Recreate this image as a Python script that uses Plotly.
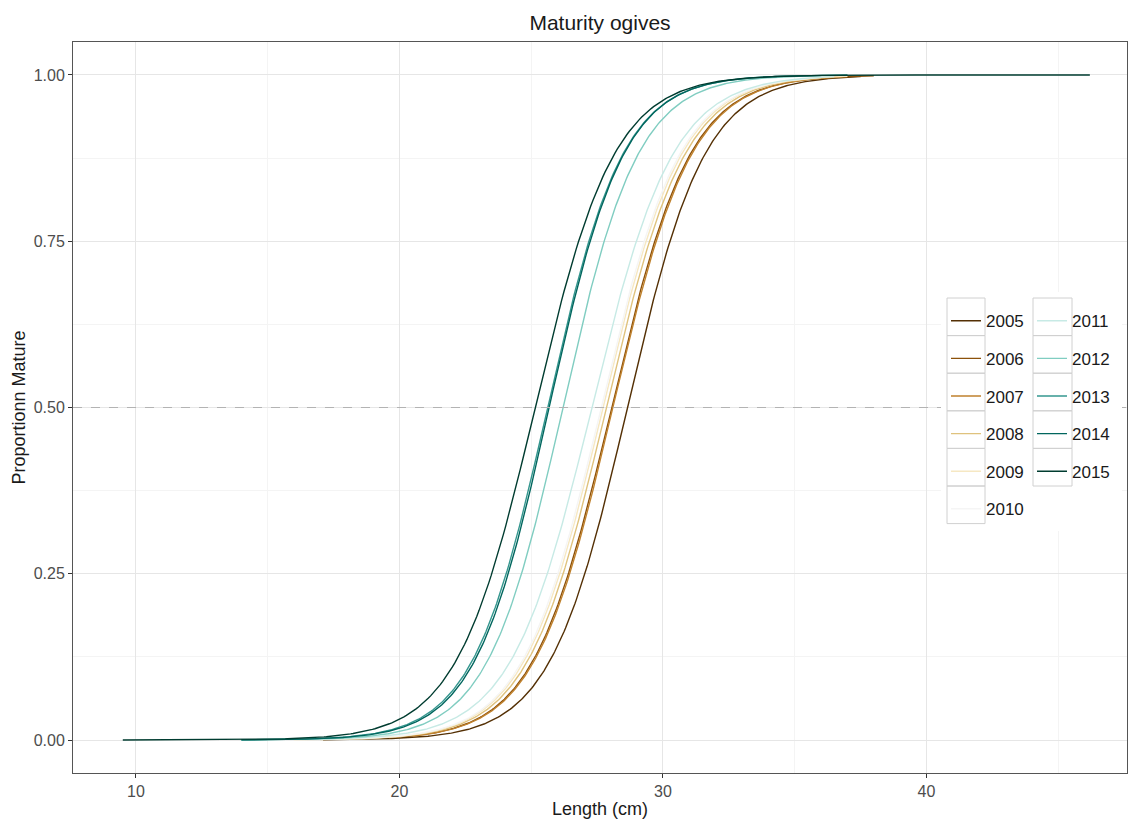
import numpy as np
import plotly.graph_objects as go

# ---- data ----
years = [2005, 2006, 2007, 2008, 2009, 2010, 2011, 2012, 2013, 2014, 2015]
l50 = [28.65, 28.05, 28.1, 27.85, 27.72, 27.65, 27.3, 26.2, 25.62, 25.68, 25.15]
slope = [0.68, 0.67, 0.67, 0.67, 0.67, 0.67, 0.65, 0.70, 0.70, 0.707, 0.666]
len_min = [17.1, 19.6, 20.5, 17.0, 16.0, 15.0, 14.0, 14.0, 14.0, 14.0, 9.5]
len_max = [37.5, 38.0, 37.0, 36.0, 37.0, 36.0, 36.5, 36.0, 37.0, 37.0, 46.2]
colors = ['#543005', '#8c510a', '#bf812d', '#dfc27d', '#f6e8c3', '#f5f5f5',
          '#c7eae5', '#80cdc1', '#35978f', '#01665e', '#003c30']
x_ticks = [10, 20, 30, 40]
y_ticks = [0, 0.25, 0.5, 0.75, 1.0]
y_ticklabels = ['0.00', '0.25', '0.50', '0.75', '1.00']

W, H = 1128, 829
ML, MR, MT, MB = 73, 1, 42, 56
PW, PH = W - ML - MR, H - MT - MB
FONT = 'Liberation Sans, Arial, sans-serif'


def px_x(p):
    return (p - ML) / PW


def px_y(p):
    return 1 - (p - MT) / PH


fig = go.Figure()
for i, yr in enumerate(years):
    x = np.linspace(len_min[i], len_max[i], 400)
    y = 1 / (1 + np.exp(-slope[i] * (x - l50[i])))
    fig.add_trace(go.Scatter(
        x=x, y=y, mode='lines', name=str(yr),
        line=dict(color=colors[i], width=1.4),
        legendgroup=str(yr),
        legend='legend' if i < 6 else 'legend2',
        hoverinfo='skip'))

shapes = []
# dashed 50% line
shapes.append(dict(type='line', xref='paper', yref='y', x0=0, x1=1, y0=0.5, y1=0.5,
                   line=dict(color='#b3b3b3', width=1, dash='dash'), layer='above'))
# legend background
shapes.append(dict(type='rect', xref='paper', yref='paper',
                   x0=px_x(941), x1=px_x(1122), y0=px_y(292), y1=px_y(531),
                   fillcolor='white', line=dict(width=0), layer='above'))
# legend key boxes
row_h = 37.6
top0 = 298
for col, (bx0, bx1, n) in enumerate([(947, 985, 6), (1033, 1072, 5)]):
    for r in range(n):
        shapes.append(dict(type='rect', xref='paper', yref='paper',
                           x0=px_x(bx0), x1=px_x(bx1),
                           y0=px_y(top0 + r * row_h), y1=px_y(top0 + (r + 1) * row_h),
                           fillcolor='rgba(0,0,0,0)',
                           line=dict(color='#d0d0d0', width=1), layer='above'))

LEG_FS = 17
item_h = LEG_FS * 1.3 + 3
legend_common = dict(bgcolor='rgba(0,0,0,0)', borderwidth=0,
                     font=dict(family=FONT, size=LEG_FS, color='#1a1a1a'),
                     tracegroupgap=row_h - item_h, xanchor='left', yanchor='top', itemwidth=30)
leg_top = top0 + (row_h - item_h) / 2 - 1

fig.update_layout(
    width=W, height=H,
    margin=dict(l=ML, r=MR, t=MT, b=MB),
    paper_bgcolor='white', plot_bgcolor='white',
    font=dict(family=FONT, size=16, color='#1a1a1a'),
    title=dict(text='Maturity ogives', x=(600) / W, xanchor='center',
               y=1 - 23 / H, yanchor='middle', font=dict(size=21, color='#1a1a1a')),
    showlegend=True,
    legend=dict(x=px_x(946), y=px_y(leg_top), **legend_common),
    legend2=dict(x=px_x(1032), y=px_y(leg_top), **legend_common),
    shapes=shapes,
    xaxis=dict(range=[7.61, 47.61], tickvals=x_ticks, ticks='outside', ticklen=4,
               tickcolor='#333333', tickfont=dict(size=16, color='#4d4d4d'),
               showgrid=True, gridcolor='#e6e6e6', gridwidth=1,
               minor=dict(dtick=5, tick0=5, showgrid=True, gridcolor='#f4f4f4', gridwidth=1),
               zeroline=False, showline=True, linecolor='#555555', linewidth=1, mirror=True,
               automargin=False,
               title=dict(text='Length (cm)', font=dict(size=18, color='#1a1a1a'), standoff=3)),
    yaxis=dict(range=[-0.0495, 1.0495], tickvals=y_ticks, ticktext=y_ticklabels,
               ticks='outside', ticklen=4, tickcolor='#333333',
               tickfont=dict(size=16, color='#4d4d4d'),
               showgrid=True, gridcolor='#e6e6e6', gridwidth=1,
               minor=dict(dtick=0.125, tick0=0.125, showgrid=True, gridcolor='#f4f4f4', gridwidth=1),
               zeroline=False, showline=True, linecolor='#555555', linewidth=1, mirror=True,
               automargin=False,
               title=dict(text='Proportionn Mature', font=dict(size=18, color='#1a1a1a'), standoff=3)),
)

fig.write_html('out.html')
